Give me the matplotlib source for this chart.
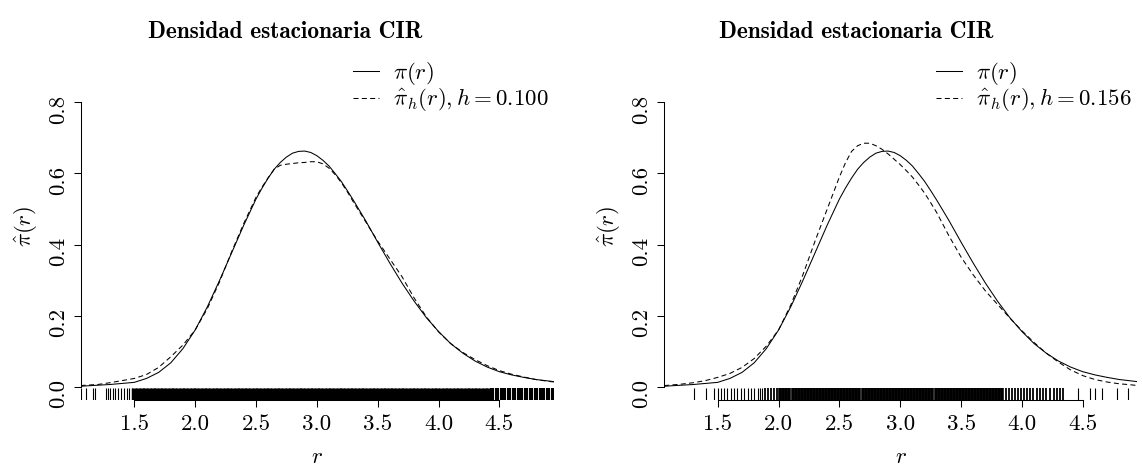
import numpy as np
import matplotlib
matplotlib.use("Agg")
import matplotlib.pyplot as plt

plt.rcParams["font.family"] = "cmr10"
plt.rcParams["mathtext.fontset"] = "cm"
plt.rcParams["axes.formatter.use_mathtext"] = True

# --- data ---
r_grid = [1.06, 1.1, 1.2, 1.3, 1.4, 1.5, 1.6, 1.7, 1.8, 1.9, 2.0, 2.1, 2.2, 2.3, 2.4,
          2.5, 2.55, 2.6, 2.65, 2.7, 2.75, 2.8, 2.85, 2.9, 2.95, 3.0, 3.05, 3.1, 3.15,
          3.2, 3.25, 3.3, 3.4, 3.5, 3.6, 3.7, 3.8, 3.9,
          4.0, 4.1, 4.2, 4.3, 4.4, 4.5, 4.6, 4.7, 4.8, 4.9, 4.95]

# true stationary density pi(r)
pi_true = [0.002, 0.003, 0.005, 0.007, 0.010, 0.013, 0.024, 0.041, 0.068, 0.108, 0.160,
           0.225, 0.299, 0.377, 0.455,
           0.528, 0.559, 0.587, 0.612, 0.631, 0.646, 0.657, 0.662, 0.663, 0.659, 0.650,
           0.637, 0.621, 0.600, 0.578, 0.552, 0.525,
           0.468, 0.407, 0.348, 0.292, 0.241, 0.195,
           0.156, 0.122, 0.095, 0.073, 0.056, 0.043, 0.034, 0.027, 0.021, 0.017, 0.015]

# kernel estimate, left panel (h = 0.100)
pi_hat_a = [0.004, 0.005, 0.007, 0.012, 0.018, 0.024, 0.035, 0.055, 0.085, 0.118, 0.160,
            0.220, 0.295, 0.380, 0.460,
            0.533, 0.562, 0.588, 0.612, 0.623, 0.626, 0.628, 0.630, 0.631, 0.633, 0.633,
            0.627, 0.615, 0.597, 0.575, 0.549, 0.520,
            0.465, 0.410, 0.360, 0.310, 0.250, 0.197,
            0.155, 0.122, 0.097, 0.077, 0.060, 0.046, 0.036, 0.028, 0.021, 0.016, 0.014]

# kernel estimate, right panel (h = 0.156)
pi_hat_b = [0.004, 0.005, 0.008, 0.012, 0.018, 0.027, 0.038, 0.055, 0.080, 0.115, 0.160,
            0.230, 0.315, 0.410, 0.500,
            0.590, 0.630, 0.662, 0.678, 0.685, 0.685, 0.678, 0.668, 0.655, 0.640, 0.625,
            0.608, 0.590, 0.568, 0.545, 0.518, 0.490,
            0.425, 0.365, 0.315, 0.270, 0.232, 0.194,
            0.158, 0.125, 0.095, 0.070, 0.048, 0.032, 0.021, 0.014, 0.009, 0.006, 0.004]

h_values = ["0.100", "0.156"]

# rug positions, left panel
rug_a_sparse = [1.062, 1.103, 1.158, 1.177, 1.267, 1.286, 1.300, 1.327, 1.344, 1.368,
                1.388, 1.418, 1.437, 1.459, 1.479]
rug_a_mid = [4.43, 4.45, 4.47, 4.49, 4.51, 4.53, 4.55, 4.57, 4.59, 4.61, 4.63, 4.65,
             4.67, 4.69, 4.71, 4.73, 4.75, 4.77, 4.79, 4.81, 4.83, 4.85, 4.87, 4.89,
             4.91, 4.93, 4.945]
rug_a_dense = [1.50, 1.53, 1.56, 1.59, 1.62, 1.65, 1.68, 1.71, 1.74, 1.77, 1.80, 1.83,
               1.86, 1.89, 1.92, 1.95, 1.98, 2.01, 2.04, 2.07, 2.10, 2.13, 2.16, 2.19,
               2.22, 2.25, 2.28, 2.31, 2.34, 2.37, 2.40, 2.43, 2.46, 2.49, 2.52, 2.55,
               2.58, 2.61, 2.64, 2.67, 2.70, 2.73, 2.76, 2.79, 2.82, 2.85, 2.88, 2.91,
               2.94, 2.97, 3.00, 3.03, 3.06, 3.09, 3.12, 3.15, 3.18, 3.21, 3.24, 3.27,
               3.30, 3.33, 3.36, 3.39, 3.42, 3.45, 3.48, 3.51, 3.54, 3.57, 3.60, 3.63,
               3.66, 3.69, 3.72, 3.75, 3.78, 3.81, 3.84, 3.87, 3.90, 3.93, 3.96, 3.99,
               4.02, 4.05, 4.08, 4.11, 4.14, 4.17, 4.20, 4.23, 4.26, 4.29, 4.32, 4.35,
               4.38, 4.41]

# rug positions, right panel
rug_b_sparse = [1.308, 1.404, 1.472, 1.500, 1.530, 1.555, 1.580, 1.610, 1.635, 1.660,
                1.690, 1.715, 1.745, 1.770, 1.800, 1.830, 1.845, 1.860,
                4.463, 4.559, 4.600, 4.655, 4.778, 4.874]
rug_b_mid = [1.890, 1.910, 1.935, 1.960, 1.985, 3.870, 3.895, 3.920, 3.945, 3.970,
             3.995, 4.020, 4.045, 4.070, 4.095, 4.120, 4.150, 4.175, 4.200, 4.230,
             4.260, 4.290, 4.310, 4.340]
rug_b_dense = [2.015, 2.040, 2.065, 2.090, 2.115,
               2.140, 2.165, 2.190, 2.215, 2.240, 2.265, 2.290, 2.315, 2.340, 2.365,
               2.390, 2.415, 2.440, 2.465, 2.490, 2.515, 2.540, 2.565, 2.590, 2.615,
               2.640, 2.665, 2.690, 2.715, 2.740, 2.765, 2.790, 2.815, 2.840, 2.865,
               2.890, 2.915, 2.940, 2.965, 2.990, 3.015, 3.040, 3.065, 3.090, 3.115,
               3.140, 3.165, 3.190, 3.215, 3.240, 3.265, 3.290, 3.315, 3.340, 3.365,
               3.390, 3.415, 3.440, 3.465, 3.490, 3.515, 3.540, 3.565, 3.590, 3.615,
               3.640, 3.665, 3.690, 3.715, 3.740, 3.765, 3.790, 3.815, 3.840]

x_ticks = [1.5, 2.0, 2.5, 3.0, 3.5, 4.0, 4.5]
x_tick_labels = ["1.5", "2.0", "2.5", "3.0", "3.5", "4.0", "4.5"]
y_ticks = [0.0, 0.2, 0.4, 0.6, 0.8]
y_tick_labels = ["0.0", "0.2", "0.4", "0.6", "0.8"]

title = "Densidad estacionaria CIR"

W, H = 1142, 466
fig = plt.figure(figsize=(W / 100, H / 100), dpi=100)

# (left edge px, estimate, rugs, h, line widths in px for sparse/mid/dense rug)
panels = [
    (80.7, pi_hat_a, rug_a_sparse, rug_a_mid, rug_a_dense, h_values[0], (1.1, 2.1, 5.4)),
    (664.1, pi_hat_b, rug_b_sparse, rug_b_mid, rug_b_dense, h_values[1], (1.1, 1.8, 3.6)),
]

lw = 0.75
dash = (4.8, 3.2)
fs = 16.5
px = 72 / 100

for i, (left_px, est, rs, rm, rd, h, rug_lw) in enumerate(panels):
    ax = fig.add_axes([left_px / W, (H - 399.8) / H, 473.3 / W, 345.9 / H])
    ax.set_xlim(1.0596, 4.949)
    ax.set_ylim(-0.036, 0.936)

    ax.plot(r_grid, pi_true, color="black", lw=lw)
    ax.plot(r_grid, est, color="black", lw=lw, dashes=dash)

    tr = ax.get_xaxis_transform()
    for pos, w in zip([rs, rm, rd], rug_lw):
        ax.vlines(pos, 0, 0.033, transform=tr, color="black", lw=w * px)

    for s in ["top", "right"]:
        ax.spines[s].set_visible(False)
    ax.spines["left"].set_bounds(0, 0.8)
    ax.spines["bottom"].set_bounds(1.5, 4.5)
    for s in ["left", "bottom"]:
        ax.spines[s].set_linewidth(lw)

    ax.set_xticks(x_ticks, labels=x_tick_labels)
    ax.set_yticks(y_ticks, labels=y_tick_labels)
    ax.tick_params(direction="out", length=5.3, width=lw, labelsize=fs, pad=5)
    ax.tick_params(axis="y", labelrotation=90, pad=4)

    ax.set_xlabel(r"$r$", fontsize=fs, labelpad=10)
    ax.set_ylabel(r"$\hat{\pi}(r)$", fontsize=fs, labelpad=6)

    h1, = ax.plot([], [], color="black", lw=lw)
    h2, = ax.plot([], [], color="black", lw=lw, dashes=dash)
    ax.legend([h1, h2], [r"$\pi(r)$", r"$\hat{\pi}_h(r), h = %s$" % h],
              loc="upper right", bbox_to_anchor=(1, 1), borderaxespad=0,
              frameon=False, fontsize=fs, handlelength=1.15, handletextpad=0.6,
              labelspacing=0.0, borderpad=0.25)

    fig.text(0.25 + 0.5 * i, 1 - 32 / H, title, fontsize=16.8, family="cmb10",
             ha="center", va="center")

fig.savefig("out.png", dpi=100)
